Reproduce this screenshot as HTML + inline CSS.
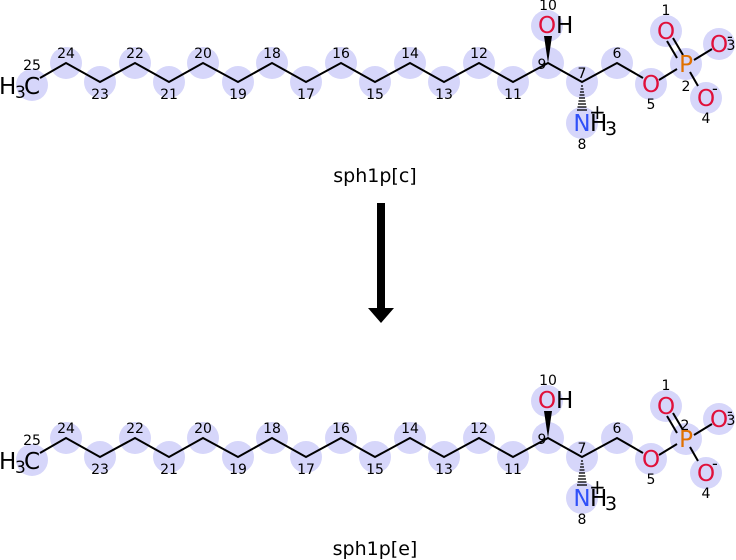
<!DOCTYPE html>
<html><head><meta charset="utf-8"><style>
html,body{margin:0;padding:0;background:#fff;width:736px;height:560px;overflow:hidden}
svg text{font-family:"DejaVu Sans","Liberation Sans",sans-serif}
.n{font-size:14px;fill:#000;text-anchor:middle}
.a{font-size:23px;text-anchor:middle}
</style></head><body>
<svg width="736" height="560" viewBox="0 0 736 560" xmlns="http://www.w3.org/2000/svg">
<g id="m1">
<g fill="#d6d6fa">
<circle cx="32" cy="85" r="16"/><circle cx="66" cy="63" r="16"/><circle cx="100" cy="82" r="16"/>
<circle cx="135" cy="63" r="16"/><circle cx="169" cy="82" r="16"/><circle cx="203" cy="63" r="16"/>
<circle cx="238" cy="82" r="16"/><circle cx="272" cy="63" r="16"/><circle cx="306" cy="82" r="16"/>
<circle cx="341" cy="63" r="16"/><circle cx="375" cy="82" r="16"/><circle cx="410" cy="63" r="16"/>
<circle cx="444" cy="82" r="16"/><circle cx="479" cy="63" r="16"/><circle cx="513" cy="82" r="16"/>
<circle cx="548" cy="63" r="16"/><circle cx="582" cy="82" r="16"/><circle cx="617" cy="63" r="16"/>
<circle cx="651" cy="84" r="16"/><circle cx="686" cy="64" r="16"/><circle cx="666" cy="31" r="16"/>
<circle cx="719" cy="44" r="16"/><circle cx="706" cy="98" r="16"/><circle cx="582" cy="123" r="16"/>
<circle cx="547" cy="26" r="16"/>
</g>
<polyline fill="none" stroke="#000" stroke-width="2" points="40,78 66,63 100,82 135,63 169,82 203,63 238,82 272,63 306,82 341,63 375,82 410,63 444,82 479,63 513,82 548,63 582,82 617,63 643,78"/>
<line x1="659" y1="80" x2="677" y2="69" stroke="#000" stroke-width="2"/>
<line x1="694" y1="60" x2="712" y2="49" stroke="#000" stroke-width="2"/>
<line x1="690" y1="72" x2="698" y2="86" stroke="#000" stroke-width="2"/>
<line x1="667" y1="41" x2="677" y2="58" stroke="#000" stroke-width="2"/>
<line x1="673" y1="38" x2="683" y2="55" stroke="#000" stroke-width="2"/>
<polygon points="548,63 544,36 552,36" fill="#000"/>
<g stroke="#000" stroke-width="1.3">
<line x1="581" y1="86" x2="583" y2="86"/><line x1="580.5" y1="89" x2="583.5" y2="89"/><line x1="580" y1="92" x2="584" y2="92"/>
<line x1="579.5" y1="95" x2="584.5" y2="95"/><line x1="579" y1="98" x2="585" y2="98"/><line x1="578.5" y1="101" x2="585.5" y2="101"/>
<line x1="578" y1="104" x2="586" y2="104"/><line x1="577.5" y1="107" x2="586.5" y2="107"/><line x1="577" y1="110" x2="587" y2="110"/>
</g>
<text x="-1" y="94" font-size="23">H</text><text x="15" y="98" font-size="17">3</text><text x="24" y="94" font-size="23">C</text>
<text class="a" x="547" y="33" fill="#e0103a">O</text><text x="556" y="33" font-size="23">H</text>
<text class="a" x="582" y="131" fill="#3050f8">N</text><text x="590" y="131" font-size="23">H</text><text x="605" y="135" font-size="19">3</text>
<text x="589" y="119" font-size="20">+</text>
<text class="a" x="651" y="92" fill="#e0103a">O</text>
<text class="a" x="686" y="72" fill="#e07000">P</text>
<text class="a" x="666" y="39" fill="#e0103a">O</text>
<text class="a" x="719" y="52" fill="#e0103a">O</text>
<text class="a" x="706" y="106" fill="#e0103a">O</text>
<text x="727" y="42" font-size="16">-</text><text x="712" y="94" font-size="16">-</text>
<g class="n">
<text x="32" y="70">25</text><text x="66" y="58">24</text><text x="100" y="99">23</text><text x="135" y="58">22</text>
<text x="169" y="99">21</text><text x="203" y="58">20</text><text x="238" y="99">19</text><text x="272" y="58">18</text>
<text x="306" y="99">17</text><text x="341" y="58">16</text><text x="375" y="99">15</text><text x="410" y="58">14</text>
<text x="444" y="99">13</text><text x="479" y="58">12</text><text x="513" y="99">11</text><text x="548" y="10">10</text>
<text x="542" y="69">9</text><text x="582" y="78">7</text><text x="617" y="58">6</text><text x="651" y="109">5</text>
<text x="666" y="15">1</text><text x="686" y="91">2</text><text x="731" y="50">3</text><text x="706" y="123">4</text>
<text x="582" y="149">8</text>
</g>
</g>
<text x="375" y="182" font-size="19" text-anchor="middle">sph1p[c]</text>
<rect x="377" y="203" width="8" height="107" fill="#000"/>
<polygon points="368,308 394,308 381,323" fill="#000"/>
<g transform="translate(0,375)">
<g fill="#d6d6fa">
<circle cx="32" cy="85" r="16"/><circle cx="66" cy="63" r="16"/><circle cx="100" cy="82" r="16"/>
<circle cx="135" cy="63" r="16"/><circle cx="169" cy="82" r="16"/><circle cx="203" cy="63" r="16"/>
<circle cx="238" cy="82" r="16"/><circle cx="272" cy="63" r="16"/><circle cx="306" cy="82" r="16"/>
<circle cx="341" cy="63" r="16"/><circle cx="375" cy="82" r="16"/><circle cx="410" cy="63" r="16"/>
<circle cx="444" cy="82" r="16"/><circle cx="479" cy="63" r="16"/><circle cx="513" cy="82" r="16"/>
<circle cx="548" cy="63" r="16"/><circle cx="582" cy="82" r="16"/><circle cx="617" cy="63" r="16"/>
<circle cx="651" cy="84" r="16"/><circle cx="686" cy="64" r="16"/><circle cx="666" cy="31" r="16"/>
<circle cx="719" cy="44" r="16"/><circle cx="706" cy="98" r="16"/><circle cx="582" cy="123" r="16"/>
<circle cx="547" cy="26" r="16"/>
</g>
<polyline fill="none" stroke="#000" stroke-width="2" points="40,78 66,63 100,82 135,63 169,82 203,63 238,82 272,63 306,82 341,63 375,82 410,63 444,82 479,63 513,82 548,63 582,82 617,63 643,78"/>
<line x1="659" y1="80" x2="677" y2="69" stroke="#000" stroke-width="2"/>
<line x1="694" y1="60" x2="712" y2="49" stroke="#000" stroke-width="2"/>
<line x1="690" y1="72" x2="698" y2="86" stroke="#000" stroke-width="2"/>
<line x1="667" y1="41" x2="677" y2="58" stroke="#000" stroke-width="2"/>
<line x1="673" y1="38" x2="683" y2="55" stroke="#000" stroke-width="2"/>
<polygon points="548,63 544,36 552,36" fill="#000"/>
<g stroke="#000" stroke-width="1.3">
<line x1="581" y1="86" x2="583" y2="86"/><line x1="580.5" y1="89" x2="583.5" y2="89"/><line x1="580" y1="92" x2="584" y2="92"/>
<line x1="579.5" y1="95" x2="584.5" y2="95"/><line x1="579" y1="98" x2="585" y2="98"/><line x1="578.5" y1="101" x2="585.5" y2="101"/>
<line x1="578" y1="104" x2="586" y2="104"/><line x1="577.5" y1="107" x2="586.5" y2="107"/><line x1="577" y1="110" x2="587" y2="110"/>
</g>
<text x="-1" y="94" font-size="23">H</text><text x="15" y="98" font-size="17">3</text><text x="24" y="94" font-size="23">C</text>
<text class="a" x="547" y="33" fill="#e0103a">O</text><text x="556" y="33" font-size="23">H</text>
<text class="a" x="582" y="131" fill="#3050f8">N</text><text x="590" y="131" font-size="23">H</text><text x="605" y="135" font-size="19">3</text>
<text x="589" y="119" font-size="20">+</text>
<text class="a" x="651" y="92" fill="#e0103a">O</text>
<text class="a" x="686" y="72" fill="#e07000">P</text>
<text class="a" x="666" y="39" fill="#e0103a">O</text>
<text class="a" x="719" y="52" fill="#e0103a">O</text>
<text class="a" x="706" y="106" fill="#e0103a">O</text>
<text x="727" y="42" font-size="16">-</text><text x="712" y="94" font-size="16">-</text>
<g class="n">
<text x="32" y="70">25</text><text x="66" y="58">24</text><text x="100" y="99">23</text><text x="135" y="58">22</text>
<text x="169" y="99">21</text><text x="203" y="58">20</text><text x="238" y="99">19</text><text x="272" y="58">18</text>
<text x="306" y="99">17</text><text x="341" y="58">16</text><text x="375" y="99">15</text><text x="410" y="58">14</text>
<text x="444" y="99">13</text><text x="479" y="58">12</text><text x="513" y="99">11</text><text x="548" y="10">10</text>
<text x="542" y="69">9</text><text x="582" y="78">7</text><text x="617" y="58">6</text><text x="651" y="109">5</text>
<text x="666" y="15">1</text><text x="685" y="55">2</text><text x="731" y="50">3</text><text x="706" y="123">4</text>
<text x="582" y="149">8</text>
</g>
</g>
<text x="375" y="555" font-size="19" text-anchor="middle">sph1p[e]</text>
</svg>
</body></html>
